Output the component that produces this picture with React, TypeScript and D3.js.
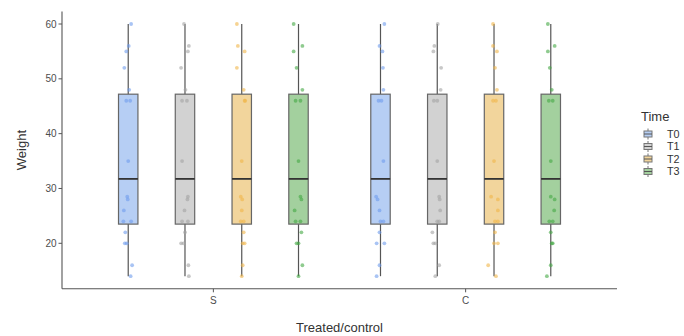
import React from "react";
import * as d3 from "d3";

const treatments = ["S", "C"];
const times = ["T0", "T1", "T2", "T3"];
const yTicks = [20, 30, 40, 50, 60];

// Box statistics (same for every group)
const whiskerLow = [14, 14, 14, 14];
const q1 = [23.5, 23.5, 23.5, 23.5];
const medians = [31.75, 31.75, 31.75, 31.75];
const q3 = [47.2, 47.2, 47.2, 47.2];
const whiskerHigh = [60, 60, 60, 60];

// Observed weights (each group shows the same values)
const weights = [60, 56, 55, 52, 48, 46, 46, 35, 28.5, 28, 26, 24, 24, 22, 20, 20, 16, 14];

// Horizontal jitter (fraction of the box half-width)
const jitterS_T0 = [0.3, 0.05, -0.2, -0.4, 0.1, -0.2, 0.2, 0, -0.1, -0.05, -0.45, -0.5, 0.3, -0.3, -0.35, -0.15, 0.4, 0.25];
const jitterS_T1 = [-0.1, 0.4, 0.3, -0.4, 0.05, -0.3, 0.2, -0.3, 0.3, 0.25, -0.05, -0.3, 0.3, 0.0, -0.4, -0.15, 0.35, 0.4];
const jitterS_T2 = [-0.5, -0.4, 0.3, -0.5, 0.2, 0.3, 0.35, 0.0, -0.1, 0.05, 0.0, -0.1, 0.2, 0.2, 0.1, 0.3, 0.1, 0.0];
const jitterS_T3 = [-0.5, 0.4, -0.5, -0.2, 0.4, -0.3, 0.2, 0.0, 0.2, 0.3, -0.4, -0.3, 0.2, 0.3, -0.2, 0.0, 0.4, 0.0];
const jitterC_T0 = [0.4, -0.1, 0.2, 0.25, 0.3, -0.2, 0.1, 0.3, -0.45, -0.3, -0.1, 0.0, 0.3, -0.1, -0.4, 0.4, -0.1, -0.4];
const jitterC_T1 = [0.05, -0.3, -0.4, 0.4, 0.35, -0.35, 0.0, 0.0, 0.2, 0.25, 0.3, 0.0, 0.2, -0.5, -0.4, -0.2, 0.2, -0.2];
const jitterC_T2 = [-0.1, -0.1, 0.3, 0.1, 0.3, -0.1, 0.2, 0.0, -0.3, 0.4, 0.4, 0.1, 0.4, 0.1, 0.0, 0.4, -0.6, 0.2];
const jitterC_T3 = [-0.3, 0.4, -0.3, -0.1, 0.1, -0.2, 0.2, 0.0, 0.0, 0.4, 0.35, -0.15, 0.2, 0.0, 0.1, 0.2, 0.0, -0.4];
const jitters = [
  [jitterS_T0, jitterS_T1, jitterS_T2, jitterS_T3],
  [jitterC_T0, jitterC_T1, jitterC_T2, jitterC_T3],
];

const boxFills = ["#b6cef4", "#d2d2d2", "#f2d59c", "#a3d09e"];
const pointColors = ["#6f9ded", "#a3a3a3", "#f0b64a", "#45a845"];

const W = 684;
const H = 336;
const panel = { left: 62, right: 617, top: 11.4, bottom: 288.8 };

export default function App() {
  const x = d3.scaleLinear().domain([0.4, 2.6]).range([panel.left, panel.right]);
  const y = d3.scaleLinear().domain([11.7, 62.3]).range([panel.bottom, panel.top]);
  const dodge = d3.scalePoint<string>().domain(times).range([-0.3375, 0.3375]);
  const halfBox = 0.0385;
  const unit = x(1) - x(0);
  const font = "Liberation Sans, Arial, sans-serif";
  const legendY = d3.scaleLinear().domain([0, 3]).range([134, 171.5]);

  return (
    <svg width={W} height={H} style={{ position: "absolute", left: 0, top: 0, background: "#fff" }} fontFamily={font}>
      {/* axes */}
      <line x1={panel.left} x2={panel.left} y1={panel.top} y2={panel.bottom} stroke="#555" strokeWidth={1.1} />
      <line x1={panel.left} x2={panel.right} y1={panel.bottom} y2={panel.bottom} stroke="#555" strokeWidth={1.1} />
      {yTicks.map((t) => (
        <g key={t}>
          <line x1={panel.left - 3.5} x2={panel.left} y1={y(t)} y2={y(t)} stroke="#555" strokeWidth={1} />
          <text x={panel.left - 5.5} y={y(t)} dy="0.35em" textAnchor="end" fontSize={10} fill="#4d4d4d">
            {t}
          </text>
        </g>
      ))}
      {treatments.map((c, i) => (
        <g key={c}>
          <line x1={x(i + 1)} x2={x(i + 1)} y1={panel.bottom} y2={panel.bottom + 3.5} stroke="#555" strokeWidth={1} />
          <text x={x(i + 1)} y={panel.bottom + 15.5} textAnchor="middle" fontSize={10} fill="#4d4d4d">
            {c}
          </text>
        </g>
      ))}
      <text x={(panel.left + panel.right) / 2} y={331.5} textAnchor="middle" fontSize={13} fill="#333">
        Treated/control
      </text>
      <text transform={`translate(26,${(panel.top + panel.bottom) / 2}) rotate(-90)`} textAnchor="middle" fontSize={13} fill="#333">
        Weight
      </text>

      {/* boxes */}
      {treatments.map((c, i) =>
        times.map((t, j) => {
          const cx = x(i + 1 + (dodge(t) as number));
          const bw = halfBox * unit;
          return (
            <g key={c + t}>
              <line x1={cx} x2={cx} y1={y(whiskerHigh[j])} y2={y(q3[j])} stroke="#555" strokeWidth={1.2} />
              <line x1={cx} x2={cx} y1={y(q1[j])} y2={y(whiskerLow[j])} stroke="#555" strokeWidth={1.2} />
              <rect x={cx - bw} y={y(q3[j])} width={2 * bw} height={y(q1[j]) - y(q3[j])} fill={boxFills[j]} stroke="#666" strokeWidth={1.2} />
              <line x1={cx - bw} x2={cx + bw} y1={y(medians[j])} y2={y(medians[j])} stroke="#333" strokeWidth={1.8} />
              {weights.map((v, k) => (
                <circle key={k} cx={cx + jitters[i][j][k] * bw} cy={y(v)} r={1.9} fill={pointColors[j]} fillOpacity={0.6} />
              ))}
            </g>
          );
        })
      )}

      {/* legend */}
      <text x={641} y={121} fontSize={13} fill="#333">
        Time
      </text>
      {times.map((t, j) => {
        const cy = legendY(j);
        return (
          <g key={t}>
            <line x1={648} x2={648} y1={cy - 5.5} y2={cy + 5.5} stroke="#777" strokeWidth={1} />
            <rect x={644} y={cy - 3} width={8} height={6} fill={boxFills[j]} stroke="#777" strokeWidth={1} />
            <line x1={644} x2={652} y1={cy} y2={cy} stroke="#555" strokeWidth={1} />
            <text x={667} y={cy} dy="0.36em" fontSize={10.8} fill="#333">
              {t}
            </text>
          </g>
        );
      })}
    </svg>
  );
}
